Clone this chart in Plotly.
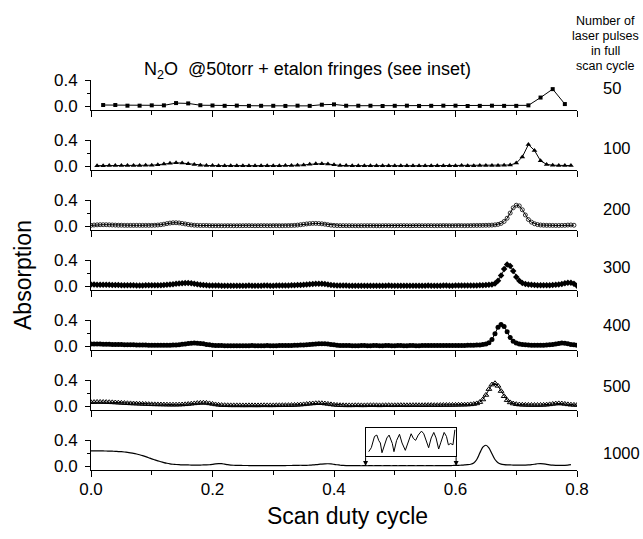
import plotly.graph_objects as go

FONT = "Liberation Sans, Arial, Helvetica, sans-serif"

# ---------------- data ----------------
pulse_labels = ["50", "100", "200", "300", "400", "500", "1000"]
header_lines = ["Number of", "laser pulses", "in full", "scan cycle"]
title_text = "N<sub>2</sub>O  @50torr + etalon fringes (see inset)"
x_title = "Scan duty cycle"
y_title = "Absorption"
x_tick_vals = [0.0, 0.2, 0.4, 0.6, 0.8]
x_tick_text = ["0.0", "0.2", "0.4", "0.6", "0.8"]
y_tick_vals = [0.0, 0.4]
y_tick_text = ["0.0", "0.4"]

# sample start / step (scan duty cycle) for each series
start50, step50 = 0.02, 0.02
abs50 = [0.015, 0.015, 0.005, 0.005, 0.01, 0.01, 0.045, 0.04, 0.012, 0.008,
         0.003, 0.006, 0.002, 0.003, 0.003, 0.001, 0.005, 0.002, 0.02, 0.025,
         0.004, 0.004, 0.004, 0.0, 0.003, 0.005, 0.001, 0.003, 0.005, 0.005,
         0.0, 0.002, 0.005, 0.002, 0.002, 0.01, 0.13, 0.26, 0.03]

start100, step100 = 0.01, 0.01
abs100 = [0.005, 0.005, 0.006, 0.006, 0.006, 0.007, 0.008, 0.009, 0.01, 0.012,
          0.02, 0.03, 0.042, 0.05, 0.045, 0.035, 0.022, 0.012, 0.008, 0.006,
          0.005, 0.005, 0.004, 0.005, 0.005, 0.004, 0.005, 0.005, 0.004, 0.005,
          0.005, 0.006, 0.007, 0.01, 0.016, 0.026, 0.034, 0.036, 0.03, 0.018,
          0.009, 0.006, 0.005, 0.005, 0.004, 0.005, 0.005, 0.004, 0.005, 0.005,
          0.004, 0.005, 0.005, 0.004, 0.005, 0.005, 0.004, 0.005, 0.005, 0.005,
          0.006, 0.005, 0.005, 0.006, 0.006, 0.007, 0.008, 0.01, 0.015, 0.045,
          0.14, 0.33, 0.24, 0.08, 0.025, 0.012, 0.008, 0.007, 0.006]

start200, step200 = 0.0, 0.005
abs200 = [0.01, 0.015, 0.018, 0.02, 0.02, 0.02, 0.018, 0.016, 0.014, 0.012,
          0.012, 0.01, 0.01, 0.01, 0.01, 0.01, 0.01, 0.01, 0.01, 0.01,
          0.01, 0.012, 0.015, 0.02, 0.028, 0.037, 0.045, 0.05, 0.05, 0.047,
          0.04, 0.032, 0.024, 0.017, 0.012, 0.01, 0.008, 0.008, 0.008, 0.006,
          0.005, 0.005, 0.005, 0.004, 0.004, 0.005, 0.005, 0.004, 0.004, 0.005,
          0.005, 0.006, 0.006, 0.005, 0.004, 0.005, 0.006, 0.006, 0.005, 0.005,
          0.006, 0.006, 0.005, 0.005, 0.006, 0.007, 0.008, 0.01, 0.014, 0.02,
          0.026, 0.032, 0.037, 0.04, 0.04, 0.038, 0.034, 0.028, 0.02, 0.013,
          0.009, 0.007, 0.006, 0.006, 0.005, 0.005, 0.005, 0.004, 0.004, 0.005,
          0.005, 0.005, 0.006, 0.005, 0.004, 0.004, 0.005, 0.006, 0.005, 0.004,
          0.004, 0.005, 0.006, 0.006, 0.005, 0.004, 0.005, 0.006, 0.006, 0.005,
          0.005, 0.006, 0.006, 0.005, 0.005, 0.006, 0.007, 0.006, 0.005, 0.005,
          0.006, 0.007, 0.006, 0.005, 0.006, 0.007, 0.008, 0.008, 0.009, 0.01,
          0.011, 0.012, 0.014, 0.018, 0.025, 0.04, 0.07, 0.12, 0.2, 0.28,
          0.32, 0.31, 0.25, 0.17, 0.1, 0.06, 0.035, 0.022, 0.015, 0.012,
          0.01, 0.01, 0.009, 0.008, 0.008, 0.009, 0.01, 0.014, 0.016, 0.012]

start300, step300 = 0.0, 0.005
abs300 = [0.022, 0.022, 0.021, 0.02, 0.02, 0.019, 0.018, 0.017, 0.016, 0.014,
          0.013, 0.012, 0.011, 0.01, 0.01, 0.009, 0.009, 0.009, 0.01, 0.01,
          0.01, 0.011, 0.012, 0.013, 0.015, 0.018, 0.022, 0.027, 0.033, 0.038,
          0.043, 0.045, 0.045, 0.042, 0.036, 0.028, 0.02, 0.014, 0.01, 0.008,
          0.007, 0.006, 0.006, 0.005, 0.005, 0.004, 0.004, 0.005, 0.005, 0.004,
          0.004, 0.005, 0.006, 0.005, 0.004, 0.004, 0.005, 0.006, 0.006, 0.005,
          0.005, 0.006, 0.007, 0.007, 0.008, 0.009, 0.01, 0.012, 0.014, 0.017,
          0.018, 0.022, 0.027, 0.031, 0.035, 0.036, 0.034, 0.029, 0.022, 0.015,
          0.011, 0.008, 0.007, 0.006, 0.006, 0.005, 0.005, 0.004, 0.004, 0.005,
          0.005, 0.004, 0.004, 0.005, 0.005, 0.004, 0.004, 0.005, 0.006, 0.005,
          0.004, 0.004, 0.005, 0.005, 0.004, 0.004, 0.005, 0.005, 0.004, 0.004,
          0.005, 0.006, 0.005, 0.004, 0.004, 0.005, 0.006, 0.006, 0.005, 0.005,
          0.006, 0.007, 0.007, 0.006, 0.006, 0.007, 0.008, 0.009, 0.01, 0.012,
          0.014, 0.018, 0.025, 0.04, 0.08, 0.16, 0.26, 0.33, 0.31, 0.23,
          0.14, 0.08, 0.045, 0.03, 0.022, 0.018, 0.015, 0.013, 0.012, 0.012,
          0.012, 0.013, 0.015, 0.018, 0.024, 0.032, 0.042, 0.05, 0.052, 0.035,
          0.005]

start400, step400 = 0.0, 0.005
abs400 = [0.03, 0.03, 0.03, 0.029, 0.028, 0.027, 0.026, 0.025, 0.024, 0.023,
          0.022, 0.021, 0.02, 0.019, 0.018, 0.017, 0.016, 0.015, 0.014, 0.013,
          0.012, 0.011, 0.01, 0.01, 0.01, 0.011, 0.012, 0.014, 0.017, 0.021,
          0.026, 0.032, 0.038, 0.043, 0.045, 0.044, 0.04, 0.033, 0.025, 0.018,
          0.012, 0.009, 0.007, 0.006, 0.005, 0.005, 0.004, 0.004, 0.005, 0.005,
          0.004, 0.004, 0.005, 0.006, 0.005, 0.004, 0.004, 0.005, 0.006, 0.005,
          0.005, 0.005, 0.006, 0.006, 0.007, 0.008, 0.009, 0.01, 0.012, 0.014,
          0.016, 0.019, 0.023, 0.027, 0.031, 0.034, 0.036, 0.035, 0.031, 0.025,
          0.018, 0.013, 0.009, 0.007, 0.006, 0.006, 0.005, 0.005, 0.005, 0.006,
          0.006, 0.005, 0.005, 0.006, 0.006, 0.005, 0.005, 0.006, 0.006, 0.005,
          0.005, 0.006, 0.006, 0.005, 0.005, 0.006, 0.006, 0.005, 0.005, 0.006,
          0.006, 0.007, 0.007, 0.006, 0.006, 0.007, 0.007, 0.007, 0.008, 0.008,
          0.008, 0.009, 0.009, 0.009, 0.01, 0.011, 0.012, 0.014, 0.017, 0.022,
          0.03, 0.05, 0.1, 0.19, 0.29, 0.33, 0.3, 0.22, 0.13, 0.075,
          0.045, 0.03, 0.022, 0.018, 0.015, 0.013, 0.012, 0.012, 0.012, 0.013,
          0.015, 0.018, 0.024, 0.032, 0.04, 0.045, 0.043, 0.035, 0.025, 0.018,
          0.012]

start500, step500 = 0.0, 0.005
abs500 = [0.058, 0.06, 0.062, 0.062, 0.061, 0.06, 0.058, 0.056, 0.054, 0.051,
          0.048, 0.045, 0.042, 0.04, 0.038, 0.036, 0.034, 0.032, 0.03, 0.028,
          0.026, 0.025, 0.024, 0.023, 0.022, 0.021, 0.02, 0.02, 0.02, 0.021,
          0.023, 0.026, 0.03, 0.035, 0.04, 0.045, 0.048, 0.05, 0.047, 0.04,
          0.032, 0.024, 0.018, 0.014, 0.012, 0.011, 0.01, 0.01, 0.01, 0.01,
          0.009, 0.009, 0.01, 0.01, 0.009, 0.009, 0.01, 0.011, 0.01, 0.01,
          0.01, 0.011, 0.011, 0.012, 0.012, 0.013, 0.014, 0.016, 0.018, 0.021,
          0.025, 0.03, 0.035, 0.039, 0.042, 0.043, 0.042, 0.038, 0.032, 0.025,
          0.019, 0.015, 0.012, 0.011, 0.01, 0.01, 0.01, 0.011, 0.011, 0.01,
          0.01, 0.011, 0.012, 0.012, 0.011, 0.01, 0.011, 0.012, 0.012, 0.011,
          0.011, 0.012, 0.013, 0.012, 0.011, 0.012, 0.013, 0.013, 0.012, 0.012,
          0.013, 0.014, 0.014, 0.013, 0.013, 0.014, 0.015, 0.015, 0.015, 0.016,
          0.017, 0.018, 0.019, 0.02, 0.022, 0.025, 0.03, 0.04, 0.06, 0.1,
          0.17, 0.26, 0.33, 0.35, 0.31, 0.23, 0.15, 0.09, 0.055, 0.038,
          0.028, 0.022, 0.019, 0.017, 0.016, 0.015, 0.015, 0.015, 0.016, 0.017,
          0.02, 0.025, 0.031, 0.037, 0.04, 0.038, 0.032, 0.025, 0.02, 0.017,
          0.015]

start1000, step1000 = 0.0, 0.005
abs1000 = [0.232, 0.233, 0.233, 0.233, 0.232, 0.231, 0.23, 0.228, 0.226, 0.222,
           0.22, 0.216, 0.21, 0.203, 0.195, 0.185, 0.173, 0.16, 0.145, 0.128,
           0.11, 0.095, 0.08, 0.066, 0.053, 0.042, 0.033, 0.027, 0.023, 0.02,
           0.018, 0.017, 0.016, 0.015, 0.015, 0.015, 0.015, 0.016, 0.017, 0.019,
           0.025, 0.033, 0.038, 0.036, 0.028, 0.02, 0.015, 0.012, 0.01, 0.009,
           0.008, 0.008, 0.007, 0.007, 0.007, 0.006, 0.006, 0.006, 0.006, 0.006,
           0.006, 0.006, 0.007, 0.007, 0.007, 0.008, 0.008, 0.009, 0.01, 0.012,
           0.01, 0.011, 0.013, 0.016, 0.02, 0.025, 0.03, 0.034, 0.035, 0.032,
           0.026, 0.019, 0.013, 0.009, 0.007, 0.006, 0.005, 0.006, 0.005, 0.004,
           0.005, 0.004, 0.006, 0.004, 0.006, 0.005, 0.004, 0.006, 0.005, 0.004,
           0.006, 0.004, 0.005, 0.006, 0.004, 0.006, 0.005, 0.004, 0.006, 0.005,
           0.004, 0.006, 0.005, 0.004, 0.006, 0.005, 0.006, 0.007, 0.006, 0.008,
           0.009, 0.011, 0.013, 0.016, 0.02, 0.027, 0.045, 0.1, 0.2, 0.29,
           0.32, 0.28, 0.19, 0.1, 0.05, 0.03, 0.022, 0.018, 0.016, 0.015,
           0.014, 0.013, 0.013, 0.014, 0.016, 0.02, 0.027, 0.035, 0.038, 0.033,
           0.025, 0.018, 0.013, 0.011, 0.01, 0.01, 0.011, 0.014, 0.02]

# inset: etalon fringes seen between duty cycle 0.452 and 0.601 (arbitrary units)
inset_range = [0.452, 0.601]
inset_x = [0.4571, 0.4614, 0.4667, 0.4705, 0.4737, 0.4763, 0.4790, 0.4827, 0.4870,
           0.4907, 0.4960, 0.4987, 0.5030, 0.5078, 0.5120, 0.5174, 0.5227, 0.5270,
           0.5307, 0.5344, 0.5387, 0.5440, 0.5478, 0.5520, 0.5558, 0.5600, 0.5643,
           0.5680, 0.5723, 0.5760, 0.5813, 0.5851, 0.5883, 0.5920, 0.5958, 0.5990]
inset_y = [0.12, 0.27, 0.70, 0.75, 0.54, 0.45, 0.08, 0.33, 0.64,
           0.75, 0.43, 0.12, 0.54, 0.78, 0.45, 0.17, 0.54, 0.80,
           0.62, 0.55, 0.75, 0.90, 0.80, 0.48, 0.27, 0.64, 0.85,
           0.64, 0.22, 0.48, 0.85, 0.70, 0.38, 0.43, 0.38, 0.95]

series = [
    (start50, step50, abs50),
    (start100, step100, abs100),
    (start200, step200, abs200),
    (start300, step300, abs300),
    (start400, step400, abs400),
    (start500, step500, abs500),
    (start1000, step1000, abs1000),
]

# ---------------- styles / layout ----------------
marker_styles = [
    dict(symbol="square", size=4, color="black"),
    dict(symbol="triangle-up", size=5, color="black"),
    dict(symbol="circle-open", size=4, color="black", line=dict(width=0.8, color="black")),
    dict(symbol="diamond", size=5, color="black"),
    dict(symbol="circle", size=5, color="black"),
    dict(symbol="triangle-up-open", size=5, color="black", line=dict(width=1, color="black")),
    None,
]
label_y = [0.285, 0.272, 0.26, 0.29, 0.32, 0.31, 0.205]

W, H = 643, 539
ML, MR, MT = 91, 66, 80
PANEL_STEP = 60
PANEL_H = 30
PX_PER_UNIT = 65.0
Y_HI = 0.4005
Y_LO = 0.4 - PANEL_H / PX_PER_UNIT
PLOT_H = 6 * PANEL_STEP + PANEL_H
MB = H - MT - PLOT_H
PLOT_W = W - ML - MR

fig = go.Figure()
layout = dict(
    width=W, height=H, autosize=False,
    margin=dict(l=ML, r=MR, t=MT, b=MB, pad=0),
    paper_bgcolor="white", plot_bgcolor="white",
    showlegend=False,
    font=dict(family=FONT, size=17, color="black"),
)

domains = []
for k, (start, step, vals) in enumerate(series):
    n = k + 1
    xs = [start + i * step for i in range(len(vals))]
    style = marker_styles[k]
    if style is None:
        tr = go.Scatter(x=xs, y=vals, mode="lines",
                        line=dict(color="black", width=1.2, shape="spline", smoothing=0.6))
    else:
        tr = go.Scatter(x=xs, y=vals, mode="lines+markers",
                        line=dict(color="black", width=1), marker=style)
    tr.update(xaxis="x" if n == 1 else f"x{n}", yaxis="y" if n == 1 else f"y{n}")
    fig.add_trace(tr)

    top = k * PANEL_STEP
    bot = top + PANEL_H
    dom = [max(0.0, 1 - bot / PLOT_H), 1 - top / PLOT_H]
    domains.append(dom)
    last = (k == len(series) - 1)
    xa = dict(
        domain=[0, 1], range=[0, 0.8], anchor="y" if n == 1 else f"y{n}",
        showline=True, linecolor="black", linewidth=1, mirror=False,
        showgrid=False, zeroline=False,
        ticks="outside", ticklen=6, tickwidth=1, tickcolor="black",
        tickmode="array", tickvals=x_tick_vals, ticktext=x_tick_text,
        minor=dict(tickvals=[0.1, 0.3, 0.5, 0.7], ticks="outside", ticklen=4,
                   tickwidth=1, tickcolor="black"),
        showticklabels=last, tickfont=dict(size=17), ticklabelstandoff=-2,
    )
    ya = dict(
        domain=dom, range=[Y_LO, Y_HI], anchor="x" if n == 1 else f"x{n}",
        showline=True, linecolor="black", linewidth=1,
        showgrid=False, zeroline=False,
        ticks="outside", ticklen=5, tickwidth=1, tickcolor="black",
        tickmode="array", tickvals=y_tick_vals, ticktext=y_tick_text,
        minor=dict(tickvals=[0.2], ticks="outside", ticklen=3, tickwidth=1,
                   tickcolor="black"),
        tickfont=dict(size=17), ticklabelstandoff=4,
    )
    layout["xaxis" if n == 1 else f"xaxis{n}"] = xa
    layout["yaxis" if n == 1 else f"yaxis{n}"] = ya

# inset axes (axis 8) placed over the bottom panel
dom7 = domains[-1]
def y7_to_paper(v):
    return dom7[0] + (v - Y_LO) / (Y_HI - Y_LO) * (dom7[1] - dom7[0])

box_lo, box_hi = 0.16, 0.59
layout["xaxis8"] = dict(domain=[inset_range[0] / 0.8, inset_range[1] / 0.8],
                        range=inset_range, anchor="y8", showline=True, mirror=True,
                        linecolor="black", linewidth=1, showgrid=False, zeroline=False,
                        showticklabels=False, ticks="")
layout["yaxis8"] = dict(domain=[y7_to_paper(box_lo), y7_to_paper(box_hi)],
                        range=[-0.03, 1.03], anchor="x8", showline=True, mirror=True,
                        linecolor="black", linewidth=1, showgrid=False, zeroline=False,
                        showticklabels=False, ticks="")
fig.add_trace(go.Scatter(x=inset_x, y=inset_y, mode="lines", xaxis="x8", yaxis="y8",
                         line=dict(color="black", width=1)))

fig.update_layout(**layout)

def px_to_paper_y(py):
    return 1 - (py - MT) / PLOT_H

def px_to_paper_x(px):
    return (px - ML) / PLOT_W

ann = []
ann.append(dict(text=title_text, x=px_to_paper_x(307), y=px_to_paper_y(70),
                xref="paper", yref="paper", showarrow=False, xanchor="center",
                yanchor="middle", font=dict(size=18)))
for j, line in enumerate(header_lines):
    ann.append(dict(text=line, x=px_to_paper_x(605), y=px_to_paper_y(21 + 15 * j),
                    xref="paper", yref="paper", showarrow=False, xanchor="center",
                    yanchor="middle", font=dict(size=12.5)))
for k, lab in enumerate(pulse_labels):
    n = k + 1
    ann.append(dict(text=lab, x=px_to_paper_x(601), y=label_y[k], xref="paper",
                    yref="y" if n == 1 else f"y{n}", showarrow=False,
                    xanchor="left", yanchor="middle", font=dict(size=16.5)))
ann.append(dict(text=y_title, textangle=-90, x=px_to_paper_x(23), y=0.5,
                xref="paper", yref="paper", showarrow=False, xanchor="center",
                yanchor="middle", font=dict(size=23)))
ann.append(dict(text=x_title, x=px_to_paper_x(347), y=px_to_paper_y(516),
                xref="paper", yref="paper", showarrow=False, xanchor="center",
                yanchor="middle", font=dict(size=23)))
for xe in inset_range:
    ann.append(dict(x=xe, y=0.0, ax=xe, ay=box_lo, xref="x7", yref="y7",
                    axref="x7", ayref="y7", text="", showarrow=True,
                    arrowhead=2, arrowsize=1, arrowwidth=1, arrowcolor="black"))
fig.update_layout(annotations=ann)

fig.write_html("out.html", config={"displayModeBar": False},
               post_script="document.body.style.margin='0';document.body.style.padding='0';")
